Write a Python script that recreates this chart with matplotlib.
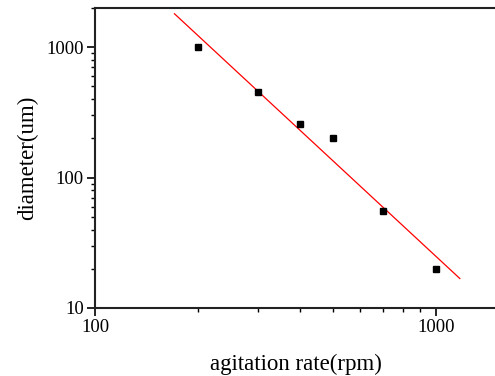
import matplotlib.pyplot as plt
import numpy as np

# agitation rate (rpm) vs droplet diameter (um)
rate = [200, 300, 400, 500, 700, 1000]
diameter = [1000, 455, 258, 200, 55, 20]
fit_range = [171, 1175]

plt.rcParams['font.family'] = ['Liberation Serif', 'DejaVu Serif']

# power-law fit in log-log space
k, b = np.polyfit(np.log10(rate), np.log10(diameter), 1)
xf = np.array(fit_range)
yf = 10 ** (k * np.log10(xf) + b)

fig = plt.figure(figsize=(4.95, 3.76), dpi=100)
ax = fig.add_axes([95 / 495, (376 - 308) / 376, 401 / 495, 300 / 376])

ax.plot(xf, yf, '-', color='red', linewidth=0.9)
ax.plot(rate, diameter, 's', color='black', markersize=5)

ax.set_xscale('log')
ax.set_yscale('log')
ax.set_xlim(100, 1500)
ax.set_ylim(10, 2000)

ax.spines['right'].set_visible(False)
for s in ['left', 'bottom', 'top']:
    ax.spines[s].set_linewidth(1.5)
    ax.spines[s].set_color('#222222')

ax.tick_params(which='major', direction='out', length=6, width=1.2, labelsize=13.5, pad=2)
ax.tick_params(which='minor', direction='out', length=3, width=1.0)
ax.tick_params(top=False, right=False, which='both')
ax.set_xticks([100, 1000])
ax.set_xticklabels(['100', '1000'])
ax.set_yticks([10, 100, 1000])
ax.set_yticklabels(['10', '100', '1000'])
ax.xaxis.set_minor_formatter(plt.NullFormatter())
ax.yaxis.set_minor_formatter(plt.NullFormatter())

ax.set_xlabel('agitation rate(rpm)', fontsize=16.5, labelpad=13)
ax.set_ylabel('diameter(um)', fontsize=16.5, labelpad=6)

fig.savefig('out.png', dpi=100)
